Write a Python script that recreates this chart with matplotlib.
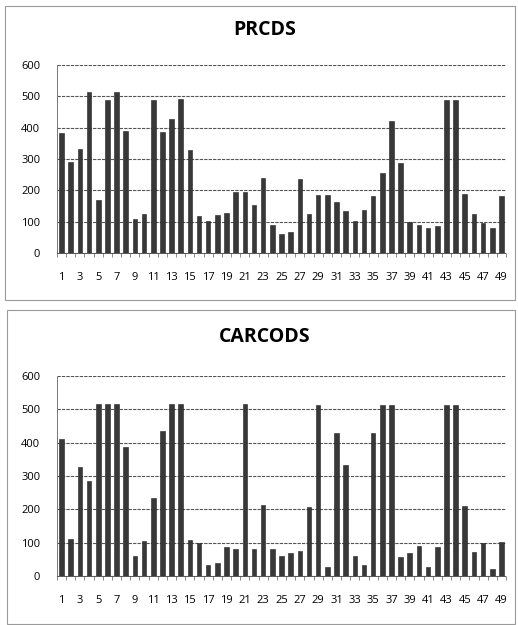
import matplotlib
matplotlib.use("Agg")
import matplotlib.pyplot as plt
from matplotlib.patches import Rectangle
import numpy as np

categories = list(range(1, 50))
prcds = [384, 289, 333, 515, 169, 488, 514, 390, 109, 124,
         488, 385, 427, 490, 328, 118, 103, 120, 127, 195,
         195, 153, 239, 89, 62, 66, 237, 125, 185, 185,
         162, 134, 102, 136, 183, 254, 421, 286, 98, 89,
         79, 85, 488, 488, 188, 125, 97, 81, 183]
carcods = [412, 112, 327, 285, 515, 515, 515, 388, 59, 106,
           234, 434, 517, 517, 107, 100, 33, 39, 88, 81,
           515, 81, 212, 81, 59, 68, 74, 207, 513, 26,
           430, 332, 59, 34, 428, 513, 513, 57, 70, 90,
           26, 86, 513, 513, 209, 71, 100, 22, 101]
titles = ["PRCDS", "CARCODS"]
yticks = [0, 100, 200, 300, 400, 500, 600]
xtick_labels = [str(c) for c in categories[::2]]

plt.rcParams['font.family'] = ['Open Sans', 'DejaVu Sans']

W, H = 518, 625
fig = plt.figure(figsize=(W / 100, H / 100), dpi=100)
fig.patch.set_facecolor('white')

def fx(px):
    return px / W

def fy(py):
    return 1 - py / H

# panel frames
fig.patches.append(Rectangle((fx(5), fy(300)), fx(510), (300 - 6) / H,
                             transform=fig.transFigure, fill=False,
                             edgecolor='#9a9a9a', linewidth=0.8))
fig.patches.append(Rectangle((fx(7), fy(624)), fx(508), (624 - 310) / H,
                             transform=fig.transFigure, fill=False,
                             edgecolor='#9a9a9a', linewidth=0.8))

panels = [
    (prcds, 65, 253, 30),
    (carcods, 376, 576, 337),
]

left_px, right_px = 57, 506
for (vals, top_px, bot_px, title_y), title in zip(panels, titles):
    ax = fig.add_axes([fx(left_px), fy(bot_px), fx(right_px - left_px),
                       (bot_px - top_px) / H])
    ax.bar(categories, vals, width=0.5, color='#383838', edgecolor='#222222',
           linewidth=0.4, zorder=3)
    ax.set_xlim(0.5, 49.5)
    ax.set_ylim(0, 600)
    ax.set_yticks(yticks)
    ax.set_yticklabels([str(t) for t in yticks], fontsize=8)
    ax.set_xticks(categories[::2])
    ax.set_xticklabels(xtick_labels, fontsize=8)
    ax.set_xticks(np.arange(0.5, 50, 1), minor=True)
    ax.grid(axis='y', color='#555555', linewidth=0.8, linestyle=(0, (3, 1)), zorder=0)
    for s in ['top', 'right']:
        ax.spines[s].set_visible(False)
    ax.spines['left'].set_linestyle((0, (1, 1)))
    ax.spines['left'].set_color('#777777')
    ax.spines['left'].set_linewidth(0.7)
    ax.spines['bottom'].set_linestyle((0, (1, 1)))
    ax.spines['bottom'].set_color('#555555')
    ax.spines['bottom'].set_linewidth(0.7)
    ax.tick_params(axis='y', length=0, pad=12)
    ax.tick_params(axis='x', which='major', length=0, pad=14)
    ax.tick_params(axis='x', which='minor', length=3, color='#777777', width=0.6)
    fig.text(fx(265), fy(title_y), title, ha='center', va='center',
             fontsize=14, fontweight='bold')

fig.savefig('out.png', dpi=100, facecolor='white')
